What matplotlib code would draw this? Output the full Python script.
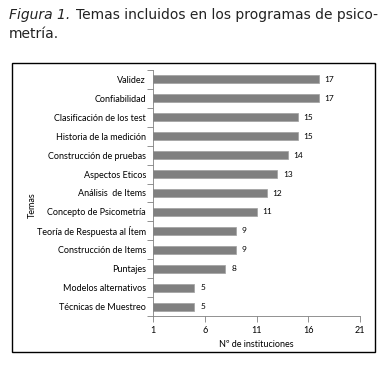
import numpy as np
import matplotlib
matplotlib.use('Agg')
from matplotlib import pyplot as plt
from matplotlib.patches import Rectangle

### data ###

temas = ['Validez', 'Confiabilidad', 'Clasificación de los test',
         'Historia de la medición', 'Construcción de pruebas', 'Aspectos Eticos',
         'Análisis  de Items', 'Concepto de Psicometría',
         'Teoría de Respuesta al Ítem', 'Construcción de Items', 'Puntajes',
         'Modelos alternativos', 'Técnicas de Muestreo']
instituciones = [17, 17, 15, 15, 14, 13, 12, 11, 9, 9, 8, 5, 5]
xticks = [1, 6, 11, 16, 21]

### figure ###

fig = plt.figure(figsize=(3.86, 3.67), dpi=100)
fig.patch.set_facecolor('white')

# caption above the box
fig.text(9/386, 1 - 19/367, 'Figura 1.', fontsize=10, style='italic',
         family='DejaVu Sans', color='#222222', va='baseline')
fig.text(76/386, 1 - 19/367, 'Temas incluidos en los programas de psico-',
         fontsize=10, family='DejaVu Sans', color='#222222', va='baseline')
fig.text(9/386, 1 - 38/367, 'metría.', fontsize=10, family='DejaVu Sans',
         color='#222222', va='baseline')

# outer frame
fig.patches.append(Rectangle((12/386, 1 - 352/367), 363/386, 289/367,
                             transform=fig.transFigure, fill=False,
                             edgecolor='black', linewidth=1.0))

ax = fig.add_axes([153/386, 1 - 316/367, 207/386, 246/367])
y = np.arange(len(temas))
ax.barh(y, np.array(instituciones) - 1, left=1, height=0.42,
        color='#808080', edgecolor='#a0a0a0', linewidth=0.5)

for yi, v in zip(y, instituciones):
    ax.text(v + 0.55, yi, str(v), va='center', ha='left', fontsize=6,
            family='Lato', color='black')

ax.set_ylim(len(temas) - 0.5, -0.5)
ax.set_xlim(1, 21)
ax.set_xticks(xticks)
ax.set_yticks(y)
ax.set_yticklabels(temas, family='Lato', fontsize=6.5)
ax.set_yticks(np.arange(-0.5, len(temas)), minor=True)
ax.tick_params(axis='y', which='major', length=0, pad=5)
ax.tick_params(axis='y', which='minor', length=4, width=0.6, color='#808080')
ax.tick_params(axis='x', length=4, width=0.6, color='#808080', labelsize=6.5, pad=3)
for lab in ax.get_xticklabels():
    lab.set_family('Lato')

ax.spines['top'].set_visible(False)
ax.spines['right'].set_visible(False)
ax.spines['left'].set_color('#808080')
ax.spines['bottom'].set_color('#808080')
ax.spines['left'].set_linewidth(0.6)
ax.spines['bottom'].set_linewidth(0.6)

ax.set_xlabel('Nº de instituciones', family='Lato', fontsize=6.5, labelpad=4)
ax.set_ylabel('Temas', family='Lato', fontsize=6.5)
ax.yaxis.set_label_coords(-0.56, 0.45)

fig.savefig('out.png', dpi=100)
